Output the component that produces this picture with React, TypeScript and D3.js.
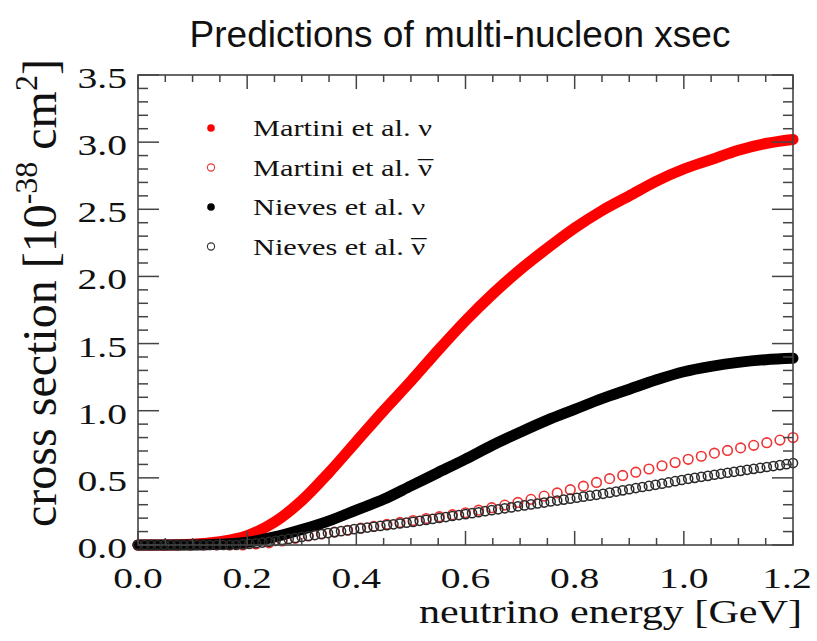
import React from "react";
import * as d3 from "d3";

// Martini nu and Nieves nu (filled markers), sampled every 0.05 GeV
const energyCoarse = [
  0, 0.05, 0.1, 0.15, 0.2, 0.25, 0.3, 0.35, 0.4, 0.45, 0.5, 0.55, 0.6,
  0.65, 0.7, 0.75, 0.8, 0.85, 0.9, 0.95, 1.0, 1.05, 1.1, 1.15, 1.2,
];
const martiniNu = [
  0, 0, 0.005, 0.025, 0.07, 0.17, 0.33, 0.54, 0.77, 1.0, 1.22, 1.45, 1.67,
  1.87, 2.05, 2.21, 2.36, 2.49, 2.6, 2.71, 2.8, 2.87, 2.94, 2.99, 3.02,
];
const nievesNu = [
  0, 0, 0, 0.005, 0.02, 0.06, 0.115, 0.18, 0.26, 0.34, 0.44, 0.54, 0.64,
  0.745, 0.84, 0.93, 1.01, 1.09, 1.16, 1.23, 1.29, 1.33, 1.36, 1.38, 1.39,
];

// Martini nubar (open red circles), every 0.024 GeV
const energyMartiniBar = d3.range(51).map((i) => +(i * 0.024).toFixed(3));
const martiniNuBar = [
  0, 0, 0, 0, 0, 0, 0, 0, 0, 0.008, 0.016, 0.03, 0.05, 0.067, 0.082, 0.096,
  0.11, 0.125, 0.139, 0.154, 0.168, 0.182, 0.197, 0.211, 0.226, 0.24, 0.259,
  0.278, 0.297, 0.317, 0.34, 0.364, 0.388, 0.412, 0.438, 0.466, 0.494, 0.518,
  0.542, 0.566, 0.59, 0.614, 0.638, 0.661, 0.684, 0.704, 0.723, 0.742, 0.762,
  0.781, 0.8,
];

// Nieves nubar (open black circles), every 0.012 GeV
const energyNievesBar = d3.range(101).map((i) => +(i * 0.012).toFixed(3));
const nievesNuBar = [
  0, 0, 0, 0, 0, 0, 0, 0, 0, 0, 0, 0, 0, 0, 0, 0, 0.005, 0.008, 0.013, 0.018,
  0.024, 0.031, 0.038, 0.045, 0.052, 0.06, 0.067, 0.074, 0.082, 0.089, 0.096,
  0.103, 0.11, 0.118, 0.124, 0.13, 0.136, 0.142, 0.148, 0.154, 0.16, 0.166,
  0.172, 0.18, 0.187, 0.194, 0.201, 0.208, 0.216, 0.223, 0.23, 0.237, 0.244,
  0.252, 0.259, 0.266, 0.273, 0.28, 0.288, 0.295, 0.302, 0.309, 0.316, 0.324,
  0.331, 0.338, 0.345, 0.352, 0.36, 0.367, 0.374, 0.381, 0.39, 0.398, 0.407,
  0.415, 0.424, 0.432, 0.44, 0.448, 0.457, 0.466, 0.475, 0.484, 0.493, 0.5,
  0.508, 0.515, 0.523, 0.53, 0.538, 0.545, 0.552, 0.56, 0.567, 0.574, 0.581,
  0.588, 0.595, 0.602, 0.61,
];

const xTickLabels = ["0.0", "0.2", "0.4", "0.6", "0.8", "1.0", "1.2"];
const yTickLabels = ["0.0", "0.5", "1.0", "1.5", "2.0", "2.5", "3.0", "3.5"];

const W = 817;
const H = 641;
const left = 138;
const right = 793;
const top = 75;
const bottom = 545;

const serif = "'Liberation Serif', 'Times New Roman', serif";
const sans = "'Liberation Sans', Arial, sans-serif";
const stretch = 1.32;
const frameColor = "#444";

export default function App() {
  const x = d3.scaleLinear().domain([0, 1.2]).range([left, right]);
  const y = d3.scaleLinear().domain([0, 3.5]).range([bottom, top]);

  const line = d3
    .line<number>()
    .x((_, i) => x(energyCoarse[i]))
    .y((d) => y(d))
    .curve(d3.curveMonotoneX);

  const xMajor = xTickLabels.map(Number);
  const xMinor = d3.range(0, 1.2001, 0.05).map((v) => +v.toFixed(2));
  const yMajor = yTickLabels.map(Number);
  const yMinor = d3.range(0, 3.5001, 0.1).map((v) => +v.toFixed(1));

  const legend = [
    { label: "Martini et al. ", bar: false, color: "#ff0000", filled: true },
    { label: "Martini et al. ", bar: true, color: "#ee3333", filled: false },
    { label: "Nieves et al. ", bar: false, color: "#000", filled: true },
    { label: "Nieves et al. ", bar: true, color: "#333", filled: false },
  ];

  return (
    <div style={{ position: "absolute", left: 0, top: 0 }}>
      <svg width={W} height={H} style={{ display: "block", background: "#fff" }}>
        <text
          x={460}
          y={47}
          textAnchor="middle"
          fontFamily={sans}
          fontSize={37}
          fill="#111"
        >
          Predictions of multi-nucleon xsec
        </text>

        {/* curves */}
        <path
          d={line(martiniNu) || ""}
          fill="none"
          stroke="#ff0000"
          strokeWidth={11}
          strokeLinecap="round"
        />
        {martiniNuBar.map((v, i) => (
          <circle
            key={"mb" + i}
            cx={x(energyMartiniBar[i])}
            cy={y(v)}
            r={4.8}
            fill="none"
            stroke="#ee3333"
            strokeWidth={1.6}
          />
        ))}
        <path
          d={line(nievesNu) || ""}
          fill="none"
          stroke="#000"
          strokeWidth={11}
          strokeLinecap="round"
        />
        {nievesNuBar.map((v, i) => (
          <circle
            key={"nb" + i}
            cx={x(energyNievesBar[i])}
            cy={y(v)}
            r={4.6}
            fill="none"
            stroke="#2a2a2a"
            strokeWidth={1.5}
          />
        ))}

        {/* frame */}
        <rect
          x={left}
          y={top}
          width={right - left}
          height={bottom - top}
          fill="none"
          stroke={frameColor}
          strokeWidth={1.6}
        />

        {/* x ticks (bottom and top) */}
        {xMinor.map((v) => {
          const major = xMajor.some((m) => Math.abs(m - v) < 1e-6);
          const len = major ? 14 : 7;
          return (
            <g key={"xt" + v}>
              <line x1={x(v)} x2={x(v)} y1={bottom} y2={bottom - len} stroke={frameColor} strokeWidth={1.5} />
              <line x1={x(v)} x2={x(v)} y1={top} y2={top + len} stroke={frameColor} strokeWidth={1.5} />
            </g>
          );
        })}
        {/* y ticks (left and right) */}
        {yMinor.map((v) => {
          const major = yMajor.some((m) => Math.abs(m - v) < 1e-6);
          const len = major ? 21 : 10;
          return (
            <g key={"yt" + v}>
              <line x1={left} x2={left + len} y1={y(v)} y2={y(v)} stroke={frameColor} strokeWidth={1.5} />
              <line x1={right} x2={right - len} y1={y(v)} y2={y(v)} stroke={frameColor} strokeWidth={1.5} />
            </g>
          );
        })}

        {/* tick labels */}
        {xTickLabels.map((t, i) => (
          <text
            key={"xl" + t}
            transform={`translate(${i === xTickLabels.length - 1 ? x(+t) - 6 : x(+t)},588) scale(${stretch},1)`}
            textAnchor="middle"
            fontFamily={serif}
            fontSize={30}
            fill="#111"
          >
            {t}
          </text>
        ))}
        {yTickLabels.map((t) => (
          <text
            key={"yl" + t}
            transform={`translate(127,${y(+t) + 13}) scale(${stretch},1)`}
            textAnchor="end"
            fontFamily={serif}
            fontSize={30}
            fill="#111"
          >
            {t}
          </text>
        ))}

        {/* axis titles */}
        <text
          transform={`translate(802,623) scale(1.24,1)`}
          textAnchor="end"
          fontFamily={serif}
          fontSize={34}
          fill="#111"
        >
          neutrino energy [GeV]
        </text>
        <text
          transform={`translate(56,293) rotate(-90)`}
          textAnchor="middle"
          fontFamily={serif}
          fontSize={48}
          fill="#111"
        >
          cross section [10
          <tspan fontSize={32} dy={-19}>-38</tspan>
          <tspan dy={19}> cm</tspan>
          <tspan fontSize={32} dy={-19}>2</tspan>
          <tspan dy={19}>]</tspan>
        </text>

        {/* legend */}
        {legend.map((d, i) => {
          const ly = 128 + i * 39.5;
          return (
            <g key={"lg" + i}>
              {d.filled ? (
                <circle cx={211} cy={ly} r={3.8} fill={d.color} />
              ) : (
                <circle cx={211} cy={ly} r={3.6} fill="none" stroke={d.color} strokeWidth={1.1} />
              )}
              <text
                transform={`translate(253,${ly + 8}) scale(${stretch},1)`}
                fontFamily={serif}
                fontSize={23}
                fill="#111"
              >
                {d.label}ν
                {d.bar && <tspan dx={-10.5} dy={1}>¯</tspan>}
              </text>
            </g>
          );
        })}
      </svg>
    </div>
  );
}
